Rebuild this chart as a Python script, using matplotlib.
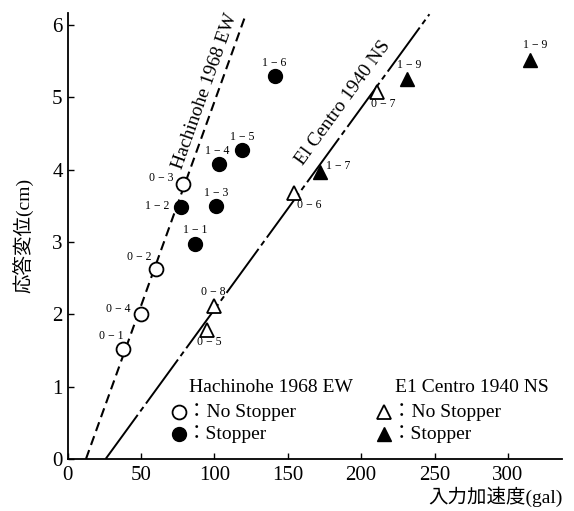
import matplotlib
matplotlib.use("Agg")
import matplotlib.pyplot as plt

plt.rcParams['font.family'] = ['Liberation Serif', 'Noto Sans CJK JP']

# Hachinohe 1968 EW
hachi_free_x = [38, 50, 60, 79]
hachi_free_y = [1.52, 2.0, 2.63, 3.80]
hachi_free_lab = ["0 − 1", "0 − 4", "0 − 2", "0 − 3"]

hachi_stop_x = [87, 77, 101, 103, 119, 141]
hachi_stop_y = [2.97, 3.48, 3.50, 4.08, 4.27, 5.30]
hachi_stop_lab = ["1 − 1", "1 − 2", "1 − 3", "1 − 4", "1 − 5", "1 − 6"]

# El Centro 1940 NS
elc_free_x = [95, 100, 154, 211]
elc_free_y = [1.78, 2.12, 3.68, 5.08]
elc_free_lab = ["0 − 5", "0 − 8", "0 − 6", "0 − 7"]

elc_stop_x = [172, 231, 315]
elc_stop_y = [3.97, 5.25, 5.52]
elc_stop_lab = ["1 − 7", "1 − 9", "1 − 9"]

# fitted lines (end points)
hachi_line_x = [12.6, 121.5]
hachi_line_y = [0.0, 6.15]
elc_line_x = [26.0, 246.5]
elc_line_y = [0.0, 6.15]

fig = plt.figure(figsize=(5.74, 5.11), dpi=100)
ax = fig.add_axes([0.1176, 0.102, 0.862, 0.873])

ax.plot(hachi_line_x, hachi_line_y, color="black", lw=1.5, linestyle=(0, (4.5, 2.6)))
ax.plot(elc_line_x, elc_line_y, color="black", lw=1.4, linestyle=(0, (28, 2.2, 2.8, 2.2)))

ms = 10
ax.plot(hachi_free_x, hachi_free_y, "o", ms=ms, mfc="white", mec="black", mew=1.3, ls="none")
ax.plot(hachi_stop_x, hachi_stop_y, "o", ms=ms, mfc="black", mec="black", ls="none")
ax.plot(elc_free_x, elc_free_y, "^", ms=ms, mfc="white", mec="black", mew=1.3, ls="none")
ax.plot(elc_stop_x, elc_stop_y, "^", ms=ms, mfc="black", mec="black", ls="none")

# point labels: offsets in points
lab_fs = 8.5
hachi_free_off = [(-8.5, 9.4), (-16, 3.6), (-12, 8.4), (-16, 4.3)]
hachi_stop_off = [(0, 10.3), (-17, 0.7), (0, 9.4), (-1.4, 9), (0, 9.6), (0, 9)]
elc_free_off = [(1.9, -8.6), (-0.7, 10), (11, -9), (4.3, -8.9)]
elc_stop_off = [(13, 4.3), (1.9, 10), (4, 10.3)]

for xs, ys, labs, offs in [
    (hachi_free_x, hachi_free_y, hachi_free_lab, hachi_free_off),
    (hachi_stop_x, hachi_stop_y, hachi_stop_lab, hachi_stop_off),
    (elc_free_x, elc_free_y, elc_free_lab, elc_free_off),
    (elc_stop_x, elc_stop_y, elc_stop_lab, elc_stop_off),
]:
    for x, y, lab, off in zip(xs, ys, labs, offs):
        ax.annotate(lab, (x, y), xytext=off, textcoords="offset points",
                    ha="center", va="center", fontsize=lab_fs)

ax.text(94, 5.08, "Hachinohe 1968 EW", rotation=70.5, rotation_mode="anchor",
        ha="center", va="center", fontsize=14)
ax.text(188, 4.92, "El Centro 1940 NS", rotation=54, rotation_mode="anchor",
        ha="center", va="center", fontsize=14)

# hand-made legend blocks (axes fraction coordinates)
fs = 14
tr = ax.transAxes
ax.text(0.2455, 0.159, "Hachinohe 1968 EW", transform=tr, fontsize=fs, va="center")
ax.plot([0.2253], [0.1054], "o", ms=ms, mfc="white", mec="black", mew=1.3, transform=tr, clip_on=False)
ax.plot([0.2253], [0.056], "o", ms=ms, mfc="black", mec="black", transform=tr, clip_on=False)
ax.text(0.2415, 0.1054, "：No Stopper", transform=tr, fontsize=fs, va="center")
ax.text(0.2415, 0.056, "：Stopper", transform=tr, fontsize=fs, va="center")

ax.text(0.6615, 0.159, "E1 Centro 1940 NS", transform=tr, fontsize=fs, va="center")
ax.plot([0.6397], [0.1054], "^", ms=ms, mfc="white", mec="black", mew=1.3, transform=tr, clip_on=False)
ax.plot([0.6397], [0.056], "^", ms=ms, mfc="black", mec="black", transform=tr, clip_on=False)
ax.text(0.6558, 0.1054, "：No Stopper", transform=tr, fontsize=fs, va="center")
ax.text(0.6558, 0.056, "：Stopper", transform=tr, fontsize=fs, va="center")

ax.set_xlim(0, 337)
ax.set_ylim(0, 6.17)
ax.set_xticks([0, 50, 100, 150, 200, 250, 300])
ax.set_yticks([0, 1, 2, 3, 4, 5, 6])
ax.tick_params(direction="in", labelsize=15, length=4, width=1)
ax.tick_params(axis="x", pad=5)
ax.spines["top"].set_visible(False)
ax.spines["right"].set_visible(False)
ax.spines["left"].set_linewidth(1.3)
ax.spines["bottom"].set_linewidth(1.3)

ax.set_ylabel("応答変位(cm)", fontsize=14, va="center")
ax.yaxis.set_label_coords(-0.088, 0.5)
ax.set_xlabel("入力加速度(gal)", fontsize=14, ha="right", va="center")
ax.xaxis.set_label_coords(1.0, -0.085)

fig.savefig("out.png", dpi=100)
